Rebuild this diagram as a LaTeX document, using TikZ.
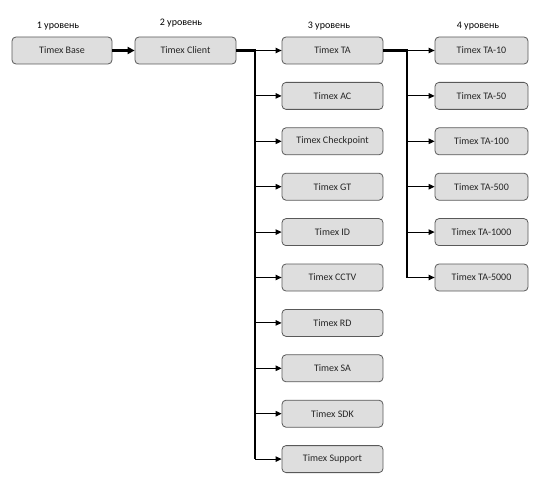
\documentclass[tikz,border=0pt]{standalone}
\usepackage{fontspec}
\setmainfont{Carlito}
\usetikzlibrary{arrows.meta, positioning, calc}

\begin{document}
\begin{tikzpicture}[x=1pt,y=-1pt,
	item/.style={draw=black!65, fill=black!13, rounded corners=4pt, minimum height=27pt,
		minimum width=101pt, inner sep=0pt, line width=0.8pt, text=black!85,
		font=\fontsize{10}{12}\selectfont},
	subitem/.style={item, minimum width=93pt},
	level/.style={font=\fontsize{10}{12}\selectfont},
	trunk/.style={line width=2.4pt},
	branch/.style={line width=0.9pt, -{Triangle[length=6pt,width=5.5pt]}}]
	
	\useasboundingbox (0,0) rectangle (550,487);
	
	% ---------- Levels ----------
	\node[level] (lev1) at (58,26) {1 уровень};
	\node[level] (lev2) at (181,23) {2 уровень};
	\node[level] (lev3) at (329,26) {3 уровень};
	\node[level] (lev4) at (478,26) {4 уровень};
	
	% ---------- Levels 1 and 2 ----------
	\node[item, minimum width=100pt] (base) at (62,50.5) {Timex Base};
	\node[item] (client) at (185.5,50.5) {Timex Client};
	\draw[trunk, -{Triangle[length=7pt,width=7pt]}] (base) -- (client);
	
	% ---------- Level 3 ----------
	\foreach \n/\t [count=\i from 0] in {ta/Timex TA, ac/Timex AC, cp/Timex Checkpoint,
		gt/Timex GT, id/Timex ID, cctv/Timex CCTV, rd/Timex RD, sa/Timex SA,
		sdk/Timex SDK, sup/Timex Support} {
		\node[item] (\n) at (332.5,50.5+45.4*\i) {\t};
	}
	\coordinate (j2) at (255,50.5);
	\draw[trunk] (client.east) -- (j2) -- (j2 |- sup);
	\foreach \n in {ta,ac,cp,gt,id,cctv,rd,sa,sdk,sup} {
		\draw[branch] (j2 |- \n) -- (\n.west);
	}
	
	% ---------- Level 4 ----------
	\foreach \n/\t [count=\i from 0] in {t10/Timex TA-10, t50/Timex TA-50, t100/Timex TA-100,
		t500/Timex TA-500, t1000/Timex TA-1000, t5000/Timex TA-5000} {
		\node[subitem] (\n) at (481.5,50.5+45.4*\i) {\t};
	}
	\coordinate (j3) at (407,50.5);
	\draw[trunk] (ta.east) -- (j3) -- (j3 |- t5000);
	\foreach \n in {t10,t50,t100,t500,t1000,t5000} {
		\draw[branch] (j3 |- \n) -- (\n.west);
	}
	
\end{tikzpicture}
\end{document}
